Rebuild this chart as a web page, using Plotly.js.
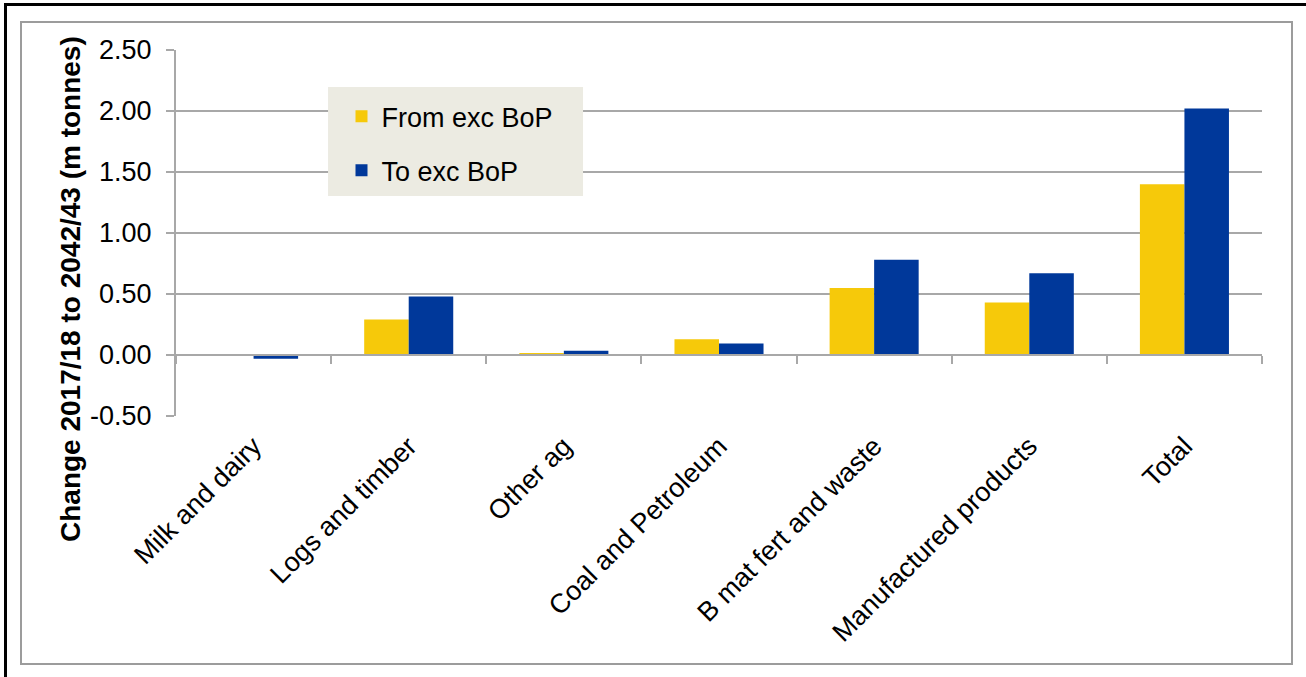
<!DOCTYPE html>
<html>
<head>
<meta charset="utf-8">
<script src="https://cdn.plot.ly/plotly-3.0.1.min.js"></script>
<style>
  html, body { margin: 0; padding: 0; background: #ffffff; }
  #wrap { position: relative; width: 1306px; height: 677px; overflow: hidden; }
  #edgeTop { position: absolute; left: 4px; top: 3px; width: 1302px; height: 3px; background: #000; }
  #edgeLeft { position: absolute; left: 4px; top: 3px; width: 3px; height: 674px; background: #000; }
  #frame { position: absolute; left: 20px; top: 21px; width: 1269px; height: 640px; border: 2px solid #9c9c9c; }
  #chart { position: absolute; left: 0; top: 0; width: 1306px; height: 677px; }
</style>
</head>
<body>
<div id="wrap">
  <div id="edgeTop"></div>
  <div id="edgeLeft"></div>
  <div id="frame"></div>
  <div id="chart"></div>
</div>
<script>
// Commodity groups along the category axis
const categories = [
  'Milk and dairy',
  'Logs and timber',
  'Other ag',
  'Coal and Petroleum',
  'B mat fert and waste',
  'Manufactured products',
  'Total'
];

// Change in tonnage, million tonnes
const fromExcBoP = [0.00, 0.29, 0.01, 0.13, 0.55, 0.43, 1.40];
const toExcBoP   = [-0.03, 0.48, 0.035, 0.095, 0.78, 0.67, 2.02];

const seriesNames = ['From exc BoP', 'To exc BoP'];

// Value axis ticks (plain hyphen for the negative label)
const yTickVals = [-0.5, 0, 0.5, 1, 1.5, 2, 2.5];
const yTickText = ['-0.50', '0.00', '0.50', '1.00', '1.50', '2.00', '2.50'];

const yTitle = 'Change 2017/18 to 2042/43 (m tonnes)';

const FONT = 'Liberation Sans, Arial, sans-serif';
const GRID = '#a8a8a8';
const FS = 27;

const traces = [
  {
    type: 'bar', name: seriesNames[0], x: categories, y: fromExcBoP,
    marker: { color: '#f6c90a', line: { width: 0 } },
    legendgroup: 'a', hoverinfo: 'x+y'
  },
  {
    type: 'bar', name: seriesNames[1], x: categories, y: toExcBoP,
    marker: { color: '#00389a', line: { width: 0 } },
    legendgroup: 'b', hoverinfo: 'x+y'
  },
  {
    // carries the category axis drawn along zero
    type: 'scatter', mode: 'markers', x: categories, y: fromExcBoP,
    xaxis: 'x2', marker: { opacity: 0 }, showlegend: false, hoverinfo: 'skip'
  }
];

const layout = {
  width: 1306,
  height: 677,
  margin: { l: 176, r: 44, t: 50, b: 261, pad: 0 },
  paper_bgcolor: 'rgba(0,0,0,0)',
  plot_bgcolor: 'rgba(0,0,0,0)',
  font: { family: FONT, size: FS, color: '#000' },
  barmode: 'group',
  bargap: 0.426,
  bargroupgap: 0,
  showlegend: true,
  legend: {
    x: 0.1395, xanchor: 'left',
    y: 0.885, yanchor: 'top',
    bgcolor: 'rgba(0,0,0,0)',
    borderwidth: 0,
    font: { family: FONT, size: FS, color: '#000' },
    traceorder: 'grouped',
    tracegroupgap: 16,
    indentation: 14,
    itemclick: false, itemdoubleclick: false
  },
  // legend panel, drawn over the gridlines
  shapes: [
    {
      type: 'rect', xref: 'paper', yref: 'paper', layer: 'above',
      x0: 0.1400, x1: 0.3748, y0: 0.601, y1: 0.899,
      fillcolor: '#ecebe2', line: { width: 0 }
    }
  ],
  xaxis: {
    type: 'category',
    categoryorder: 'array', categoryarray: categories,
    range: [-0.5, 6.5],
    showline: false, showgrid: false, zeroline: false,
    ticks: '', tickangle: -45,
    ticklabelstandoff: 8,
    tickfont: { family: FONT, size: FS, color: '#000' },
    fixedrange: true
  },
  xaxis2: {
    type: 'category',
    categoryorder: 'array', categoryarray: categories,
    range: [-0.5, 6.5],
    overlaying: 'x', anchor: 'free', position: 0.5 / 3,
    showline: true, linecolor: GRID, linewidth: 2,
    ticks: 'outside', tickson: 'boundaries', ticklen: 8, tickwidth: 2, tickcolor: GRID,
    showticklabels: false, showgrid: false, zeroline: false,
    fixedrange: true
  },
  yaxis: {
    range: [-0.5, 2.5],
    tickvals: yTickVals, ticktext: yTickText,
    showgrid: true, gridcolor: GRID, gridwidth: 2,
    zeroline: false,
    showline: true, linecolor: GRID, linewidth: 2,
    ticks: 'outside', ticklen: 8, tickwidth: 2, tickcolor: GRID,
    ticklabelstandoff: 9,
    tickfont: { family: FONT, size: FS, color: '#000' },
    fixedrange: true
  },
  annotations: [
    {
      text: '<b>' + yTitle + '</b>',
      xref: 'paper', yref: 'paper',
      x: -0.0967, y: 0.347,
      xanchor: 'center', yanchor: 'middle',
      textangle: -90, showarrow: false,
      font: { family: FONT, size: 28, color: '#000' }
    }
  ]
};

Plotly.newPlot('chart', traces, layout, { displayModeBar: false, staticPlot: false });
</script>
</body>
</html>
